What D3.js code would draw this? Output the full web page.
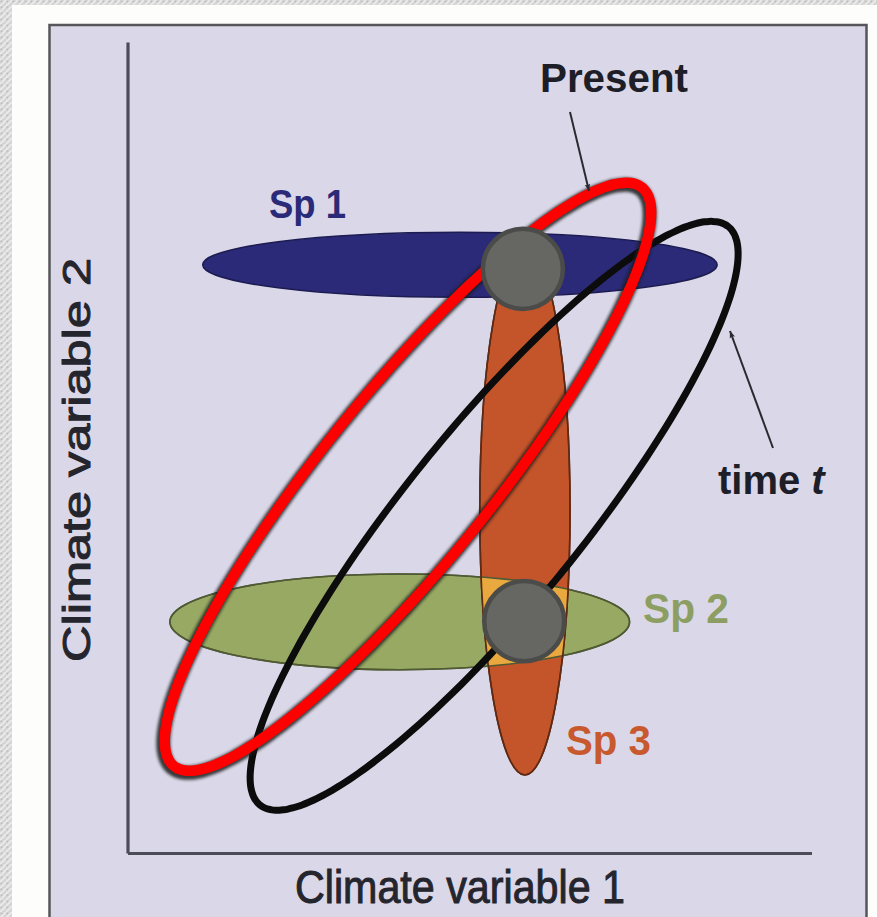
<!DOCTYPE html>
<html>
<head>
<meta charset="utf-8">
<script src="https://cdn.jsdelivr.net/npm/d3@7"></script>
<style>
  html, body { margin: 0; padding: 0; background: #ffffff; }
  svg { display: block; }
  text { font-family: "Liberation Sans", Arial, Helvetica, sans-serif; }
</style>
</head>
<body>
<svg id="chart" width="877" height="917"></svg>
<script>
// ---------- data (niche ellipses in climate space, arbitrary units) ----------
const species = ["Sp 1", "Sp 2", "Sp 3"];
const speciesCx = [4.86, 3.98, 5.81];
const speciesCy = [8.60, 3.38, 5.01];
const speciesRx = [3.76, 3.36, 0.66];
const speciesRy = [0.475, 0.70, 3.87];

const climateStates = ["Present", "time t"];
const climateCx = [4.10, 5.36];
const climateCy = [5.50, 4.93];
const climateA = [5.44, 5.44];     // semi-major
const climateB = [1.235, 1.29];    // semi-minor
const climateAngle = [51, 51];     // degrees

const occupiedX = [5.78, 5.80];    // realised niche points
const occupiedY = [8.54, 3.39];
const pointR = 0.585;

const axisTitles = ["Climate variable 1", "Climate variable 2"];

// ---------- layout ----------
const W = 877, H = 917;
const svg = d3.select("#chart");
const x = d3.scaleLinear().domain([0, 10]).range([127.5, 811.5]);
const y = d3.scaleLinear().domain([0, 11.857]).range([853, 42]);
const len = v => x(v) - x(0);

const defs = svg.append("defs");
const pat = defs.append("pattern").attr("id", "tex").attr("patternUnits", "userSpaceOnUse")
  .attr("width", 6).attr("height", 6);
pat.append("rect").attr("width", 6).attr("height", 6).attr("fill", "#d6d6d6");
pat.append("path").attr("d", "M0,6 L6,0").attr("stroke", "#eeeeee").attr("stroke-width", 1.5);
pat.append("circle").attr("cx", 1.5).attr("cy", 1.5).attr("r", 0.8).attr("fill", "#b8b8b8");

const shadow = defs.append("filter").attr("id", "shadow").attr("x", "-10%").attr("y", "-10%")
  .attr("width", "120%").attr("height", "120%");
shadow.append("feGaussianBlur").attr("stdDeviation", 1.6);

// background frame
svg.append("rect").attr("width", W).attr("height", H).attr("fill", "url(#tex)");
svg.append("rect").attr("x", 12).attr("y", 5).attr("width", W - 12).attr("height", H).attr("fill", "#fdfdfb");
svg.append("rect").attr("x", 49.5).attr("y", 25).attr("width", 817).attr("height", 910)
  .attr("fill", "#dad8e8").attr("stroke", "#55555a").attr("stroke-width", 2.5);

// axes (no ticks)
const gx = svg.append("g").attr("transform", `translate(0,${y(0)})`)
  .call(d3.axisBottom(x).ticks(0).tickSizeOuter(0));
const gy = svg.append("g").attr("transform", `translate(${x(0)},0)`)
  .call(d3.axisLeft(y).ticks(0).tickSizeOuter(0));
[gx, gy].forEach(g => g.select(".domain").attr("stroke", "#4c4b58").attr("stroke-width", 3.2));

// species niches
const spFill = ["#2b2a78", "#97a963", "#c4552b"];
const spStroke = ["#1d1c52", "#4f5a34", "#5e2a14"];
const ell = i => ({ cx: x(speciesCx[i]), cy: y(speciesCy[i]), rx: len(speciesRx[i]), ry: len(speciesRy[i]) });

defs.append("clipPath").attr("id", "clipSp2").append("ellipse").attr("cx", ell(1).cx).attr("cy", ell(1).cy)
  .attr("rx", ell(1).rx).attr("ry", ell(1).ry);

function drawEllipse(i, fill, stroke, clip) {
  const e = ell(i);
  const el = svg.append("ellipse").attr("cx", e.cx).attr("cy", e.cy).attr("rx", e.rx).attr("ry", e.ry)
    .attr("fill", fill).attr("stroke", stroke).attr("stroke-width", stroke === "none" ? 0 : 1.6);
  if (clip) el.attr("clip-path", clip);
  return el;
}
drawEllipse(1, spFill[1], spStroke[1]);
drawEllipse(2, spFill[2], spStroke[2]);
drawEllipse(2, "#e9a93f", "none", "url(#clipSp2)");
drawEllipse(1, "none", spStroke[1]);
drawEllipse(2, "none", spStroke[2]);
drawEllipse(0, spFill[0], spStroke[0]);

// climate envelopes (rotated ellipses)
function envelopePoints(i) {
  const phi = climateAngle[i] * Math.PI / 180;
  return d3.range(0, 360, 2).map(deg => {
    const t = deg * Math.PI / 180;
    const dx = climateA[i] * Math.cos(t), dy = climateB[i] * Math.sin(t);
    return [climateCx[i] + dx * Math.cos(phi) - dy * Math.sin(phi),
            climateCy[i] + dx * Math.sin(phi) + dy * Math.cos(phi)];
  });
}
const envLine = d3.line().x(d => x(d[0])).y(d => y(d[1])).curve(d3.curveCardinalClosed);

// time t (black)
svg.append("path").attr("d", envLine(envelopePoints(1)))
  .attr("fill", "none").attr("stroke", "#0c0c0c").attr("stroke-width", 7);
// present (red) with dark edge shadow
svg.append("path").attr("d", envLine(envelopePoints(0)))
  .attr("fill", "none").attr("stroke", "#1a1a1a").attr("stroke-width", 14)
  .attr("transform", "translate(-1.5,2)").attr("filter", "url(#shadow)").attr("opacity", 0.85);
svg.append("path").attr("d", envLine(envelopePoints(0)))
  .attr("fill", "none").attr("stroke", "#ff0000").attr("stroke-width", 10.5);

// occupied points
svg.selectAll("circle.pt").data(d3.range(occupiedX.length)).join("circle").attr("class", "pt")
  .attr("cx", i => x(occupiedX[i])).attr("cy", i => y(occupiedY[i])).attr("r", len(pointR))
  .attr("fill", "#666663").attr("stroke", "#4b4b49").attr("stroke-width", 4.5);

// arrows
defs.append("marker").attr("id", "arrow").attr("viewBox", "0 0 10 10").attr("refX", 10).attr("refY", 5)
  .attr("markerWidth", 7).attr("markerHeight", 7).attr("markerUnits", "userSpaceOnUse")
  .attr("orient", "auto")
  .append("path").attr("d", "M0,1 L10,5 L0,9 L2,5 Z").attr("fill", "#2a2a30");
const arrows = [
  { from: [570, 112], to: [589, 191] },
  { from: [773, 448], to: [730, 331] }
];
arrows.forEach(a => {
  svg.append("line").attr("x1", a.from[0]).attr("y1", a.from[1]).attr("x2", a.to[0]).attr("y2", a.to[1])
    .attr("stroke", "#2a2a30").attr("stroke-width", 2).attr("marker-end", "url(#arrow)");
});

// labels
function label(txt, px, py, size, weight, color, width) {
  const t = svg.append("text").attr("x", px).attr("y", py).attr("font-size", size)
    .attr("font-weight", weight).attr("fill", color).text(txt);
  if (width) t.attr("textLength", width).attr("lengthAdjust", "spacingAndGlyphs");
  return t;
}
label(climateStates[0], 540, 92, 41, "bold", "#1e1e28", 148);
const tt = svg.append("text").attr("x", 718).attr("y", 494).attr("font-size", 40)
  .attr("font-weight", "bold").attr("fill", "#1e1e28");
tt.append("tspan").text("time ");
tt.append("tspan").attr("font-style", "italic").text("t");

label(species[0], 269, 218, 41, "bold", "#2b2a78", 77);
label(species[1], 643, 623, 43, "bold", "#8d9e62", 86);
label(species[2], 566, 755, 42, "bold", "#c8582e", 85);

label(axisTitles[0], 295, 903, 47, "normal", "#25252e", 330)
  .attr("stroke", "#25252e").attr("stroke-width", 1);
svg.append("text").attr("transform", "translate(90,662) rotate(-90)")
  .attr("font-size", 38).attr("fill", "#25252e").attr("stroke", "#25252e").attr("stroke-width", 1)
  .attr("textLength", 404).attr("lengthAdjust", "spacingAndGlyphs").text(axisTitles[1]);
</script>
</body>
</html>
